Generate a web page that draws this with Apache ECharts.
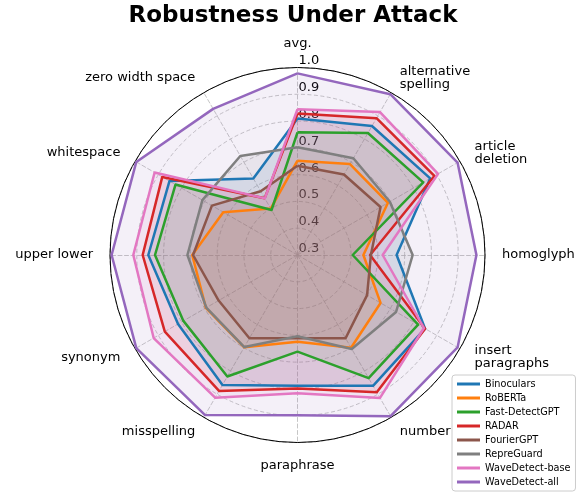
<!DOCTYPE html>
<html>
<head>
<meta charset="utf-8">
<script src="https://cdn.jsdelivr.net/npm/echarts@6/dist/echarts.min.js"></script>
<style>
  html, body { margin: 0; padding: 0; background: #ffffff; }
  #chart { width: 586px; height: 493px; }
</style>
</head>
<body>
<div id="chart"></div>
<script>
// Attack categories, listed clockwise starting from the top spoke.
const categories = ['avg.', 'alternative\nspelling', 'article\ndeletion', 'homoglyph',
  'insert\nparagraphs', 'number', 'paraphrase', 'misspelling', 'synonym',
  'upper lower', 'whitespace', 'zero width space'];

// Detection scores per detector, same order as categories.
const binoculars     = [0.810, 0.856, 0.872, 0.670, 0.850, 0.864, 0.788, 0.860, 0.815, 0.857, 0.852, 0.630];
const roberta        = [0.652, 0.692, 0.690, 0.546, 0.658, 0.700, 0.624, 0.698, 0.695, 0.693, 0.620, 0.500];
const fastDetectGPT  = [0.758, 0.826, 0.842, 0.506, 0.820, 0.831, 0.661, 0.824, 0.792, 0.832, 0.826, 0.494];
const radar          = [0.828, 0.890, 0.890, 0.571, 0.850, 0.892, 0.798, 0.886, 0.872, 0.878, 0.883, 0.545];
const fourierGPT     = [0.633, 0.647, 0.658, 0.574, 0.600, 0.659, 0.611, 0.659, 0.640, 0.690, 0.669, 0.575];
const repreGuard     = [0.702, 0.717, 0.698, 0.730, 0.725, 0.705, 0.603, 0.697, 0.693, 0.711, 0.710, 0.727];
const waveDetectBase = [0.844, 0.916, 0.906, 0.618, 0.845, 0.916, 0.816, 0.915, 0.920, 0.913, 0.916, 0.544];
const waveDetectAll  = [0.978, 0.993, 0.990, 0.968, 0.990, 0.995, 0.898, 0.990, 0.995, 0.994, 0.995, 0.930];

const seriesNames = ['Binoculars', 'RoBERTa', 'Fast-DetectGPT', 'RADAR', 'FourierGPT',
  'RepreGuard', 'WaveDetect-base', 'WaveDetect-all'];
const seriesValues = [binoculars, roberta, fastDetectGPT, radar, fourierGPT,
  repreGuard, waveDetectBase, waveDetectAll];
const seriesColors = ['#1f77b4', '#ff7f0e', '#2ca02c', '#d62728', '#8c564b',
  '#7f7f7f', '#e377c2', '#9467bd'];

// Radial scale and its tick labels.
const radialTicks = ['0.3', '0.4', '0.5', '0.6', '0.7', '0.8', '0.9', '1.0'];
const rMin = 0.3;
const rMax = 1.0;

const FONT = 'DejaVu Sans';
const n = categories.length;

// ECharts lays radar spokes out counter-clockwise; flip to run clockwise.
const toCCW = arr => arr.map((_, k) => arr[(n - k) % n]);

const indicatorMain = toCCW(categories).map((name, k) => {
  const ind = { name: name, min: rMin, max: rMax };
  if (k === 0) {
    ind.axisLabel = {
      show: true,
      align: 'left',
      verticalAlign: 'bottom',
      margin: -1,
      color: '#000',
      fontFamily: FONT,
      fontSize: 13,
      formatter: v => radialTicks[Math.round((v - rMin) * 10)] || ''
    };
  }
  return ind;
});
const indicatorFrame = categories.map(() => ({ min: rMin, max: rMax }));

// Outlines sit above every translucent fill.
const lineSeries = seriesNames.map((name, i) => ({
  name: name,
  type: 'radar',
  radarIndex: 0,
  symbol: 'none',
  lineStyle: { color: seriesColors[i], width: 2.5 },
  itemStyle: { color: seriesColors[i] },
  z: 10 + i,
  data: [{ name: name, value: toCCW(seriesValues[i]) }]
}));
const fillSeries = seriesNames.map((name, i) => ({
  name: name,
  type: 'radar',
  radarIndex: 0,
  symbol: 'none',
  lineStyle: { width: 0, opacity: 0 },
  itemStyle: { color: seriesColors[i] },
  areaStyle: { color: seriesColors[i], opacity: 0.1 },
  z: 2,
  data: [{ name: name, value: toCCW(seriesValues[i]) }]
}));

const chart = echarts.init(document.getElementById('chart'), null, { renderer: 'canvas' });

chart.setOption({
  backgroundColor: '#ffffff',
  animation: false,
  title: {
    text: 'Robustness Under Attack',
    left: 'center',
    top: 0,
    textStyle: { fontFamily: FONT, fontWeight: 'bold', fontSize: 23, color: '#000' }
  },
  legend: {
    orient: 'vertical',
    left: 452,
    top: 375,
    data: seriesNames,
    icon: 'rect',
    itemWidth: 23,
    itemHeight: 3,
    itemGap: 4,
    padding: [4, 5, 4, 5],
    borderColor: '#cccccc',
    borderWidth: 1,
    borderRadius: 3,
    backgroundColor: 'rgba(255,255,255,0.8)',
    textStyle: { fontFamily: FONT, fontSize: 9.7, color: '#000' }
  },
  radar: [
    {
      center: [297.5, 255],
      radius: 187.5,
      startAngle: 90,
      shape: 'circle',
      splitNumber: 7,
      indicator: indicatorMain,
      axisName: { color: '#000', fontFamily: FONT, fontSize: 13 },
      nameGap: 17,
      axisLabel: { show: false },
      axisTick: { show: false },
      axisLine: { lineStyle: { color: '#b8b8b8', width: 0.8, type: [4, 2.5] } },
      splitLine: { lineStyle: { color: '#b8b8b8', width: 0.8, type: [4, 2.5] } },
      splitArea: { show: false }
    },
    {
      center: [297.5, 255],
      radius: 187.5,
      startAngle: 90,
      shape: 'circle',
      splitNumber: 1,
      indicator: indicatorFrame,
      axisName: { show: false },
      axisLabel: { show: false },
      axisTick: { show: false },
      axisLine: { show: false },
      splitLine: { lineStyle: { color: '#000', width: 1 } },
      splitArea: { show: false },
      silent: true
    }
  ],
  series: lineSeries.concat(fillSeries)
});
</script>
</body>
</html>
